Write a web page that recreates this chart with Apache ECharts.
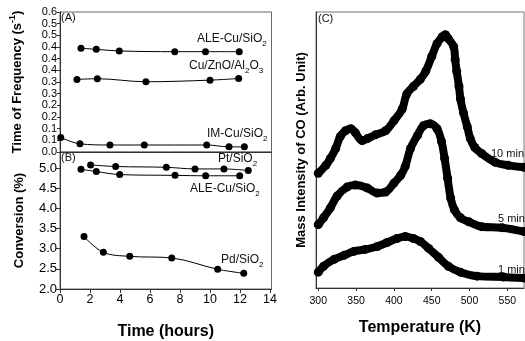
<!DOCTYPE html>
<html>
<head>
<meta charset="utf-8">
<script src="https://cdn.jsdelivr.net/npm/echarts@6/dist/echarts.min.js"></script>
<style>
  html, body { margin: 0; padding: 0; background: #fff; }
  #chart { width: 525px; height: 341px; }
</style>
</head>
<body>
<div id="chart"></div>
<script>
// panel A: turnover frequency vs time (hours)
const tfTimeAle = [1.4, 2.42, 3.95, 7.65, 9.7, 11.95];
const tfAle = [0.445, 0.44, 0.433, 0.43, 0.43, 0.43];
const tfTimeCuZn = [1.13, 2.49, 5.73, 10.0, 11.91];
const tfCuZn = [0.311, 0.314, 0.301, 0.308, 0.315];
const tfTimeIm = [0.05, 1.33, 3.33, 5.62, 9.78, 11.27, 12.29];
const tfIm = [0.062, 0.035, 0.03, 0.03, 0.03, 0.022, 0.022];
// tick labels of panel A, bottom to top, one per 0.05 step
const tfTickLabels = ['0.0', '0.1', '0.1', '0.2', '0.2', '0.3', '0.3', '0.4', '0.4', '0.4', '0.5', '0.5', '0.6'];

// panel B: conversion (%) vs time (hours)
const convTimePt = [2.04, 3.71, 7.09, 9.0, 10.93, 12.55];
const convPt = [5.08, 5.04, 5.02, 4.98, 4.98, 4.94];
const convTimeAle = [1.4, 2.42, 3.98, 7.67, 9.71, 11.98];
const convAle = [4.97, 4.915, 4.84, 4.82, 4.81, 4.81];
const convTimePd = [1.6, 2.89, 4.65, 7.45, 10.51, 12.25];
const convPd = [3.3, 2.91, 2.81, 2.77, 2.49, 2.39];
const timeTicks = [0, 2, 4, 6, 8, 10, 12, 14];

// panel C: CO mass signal [temperature K, intensity arb.]
const tpd10 = [[300, 116], [310, 124], [316, 131], [323, 141], [329, 153], [336, 159], [343, 161], [349, 157], [358, 149], [365, 151], [376, 155], [389, 159], [400, 169], [411, 181], [417, 196], [426, 204], [435, 211], [442, 219], [450, 234], [457, 247], [464, 254], [468, 256], [472, 252], [479, 244], [481, 231], [483, 219], [486, 204], [488, 191], [492, 177], [497, 163], [501, 151], [507, 142], [516, 136], [534, 127], [551, 124], [572, 122]];
const tpd5 = [[300, 64], [307, 71], [316, 81], [325, 93], [338, 102], [349, 104], [365, 101], [378, 96], [389, 97], [400, 106], [409, 114], [415, 123], [422, 141], [431, 154], [439, 164], [448, 166], [457, 161], [463, 148], [467, 131], [471, 111], [475, 91], [480, 79], [488, 71], [499, 67], [516, 62], [543, 61], [572, 57]];
const tpd1 = [[300, 16], [307, 22], [321, 29], [334, 33], [347, 37], [362, 39], [378, 42], [391, 46], [404, 50], [415, 52], [426, 50], [435, 47], [446, 40], [459, 31], [472, 22], [488, 16], [510, 12], [545, 11], [572, 10]];
const tempTicks = [300, 350, 400, 450, 500, 550];

const FONT = 'Liberation Sans, Arial, sans-serif';
const zip = (xs, ys) => xs.map((x, i) => [x, ys[i]]);

const chart = echarts.init(document.getElementById('chart'), null, { renderer: 'canvas' });

function dotLine(name, data, xi, yi) {
  return {
    name, type: 'line', xAxisIndex: xi, yAxisIndex: yi, data,
    smooth: 0.35, symbol: 'circle', symbolSize: 7, showSymbol: true,
    itemStyle: { color: '#000' },
    lineStyle: { color: '#000', width: 1 },
    animation: false,
  };
}

function thickCurve(name, data) {
  return {
    name, type: 'line', xAxisIndex: 2, yAxisIndex: 2, data,
    smooth: 0.4, symbol: 'circle', symbolSize: 9, showSymbol: true,
    itemStyle: { color: '#000' },
    lineStyle: { color: '#000', width: 8 },
    animation: false,
  };
}

const subRich = {
  s: { fontSize: 8, verticalAlign: 'bottom', lineHeight: 17, fontFamily: FONT, fill: '#000' },
};

function note(x, y, text, size) {
  return {
    type: 'text', x, y, silent: true,
    style: {
      text, fill: '#111', fontFamily: FONT, fontSize: size || 12,
      verticalAlign: 'middle', align: 'left', rich: subRich,
    },
  };
}

const axisLineStyle = { lineStyle: { color: '#333', width: 1 } };
const nameStyle = { fontFamily: FONT, fontWeight: 'bold', fontSize: 13, color: '#000' };
const notes = [
  note(61, 18, '(A)', 11),
  note(197, 39, 'ALE-Cu/SiO{s|2}'),
  note(189, 66, 'Cu/ZnO/Al{s|2}O{s|3}'),
  note(207, 134, 'IM-Cu/SiO{s|2}'),
  note(61, 158, '(B)', 11),
  note(218, 159, 'Pt/SiO{s|2}'),
  note(190, 189, 'ALE-Cu/SiO{s|2}'),
  note(221, 260, 'Pd/SiO{s|2}'),
  note(318, 19, '(C)', 11),
  note(491, 154, '10 min', 11),
  note(498, 219, '5 min', 11),
  note(498, 270, '1 min', 11),
];

chart.setOption({
  animation: false,
  textStyle: { fontFamily: FONT },
  grid: [
    { left: 60, top: 12, width: 211.5, height: 140, show: true, borderColor: '#666', borderWidth: 1 },
    { left: 60, top: 152, width: 211.5, height: 140, show: true, borderColor: '#666', borderWidth: 1 },
    { left: 316, top: 12, width: 208, height: 279, show: true, borderColor: '#777', borderWidth: 1 },
  ],
  xAxis: [
    {
      gridIndex: 0, type: 'value', min: 0, max: 14.1,
      axisLine: axisLineStyle, axisTick: { show: false }, axisLabel: { show: false }, splitLine: { show: false },
    },
    {
      gridIndex: 1, type: 'value', min: 0, max: 14.1,
      axisLine: axisLineStyle,
      axisTick: { show: true, length: 4, customValues: timeTicks, lineStyle: { color: '#333' } },
      // last tick label is drawn below as a graphic, so it is not lost at the panel edge
      axisLabel: { fontSize: 12.5, color: '#000', margin: 4, customValues: timeTicks.slice(0, -1) },
      splitLine: { show: false },
      name: 'Time (hours)', nameLocation: 'middle', nameGap: 35,
      nameTextStyle: { ...nameStyle, fontSize: 16 },
    },
    {
      gridIndex: 2, type: 'value', min: 297, max: 572,
      axisLine: axisLineStyle,
      axisTick: { show: true, length: 3, customValues: tempTicks, lineStyle: { color: '#333' } },
      axisLabel: { fontSize: 10.5, color: '#000', margin: 8, customValues: tempTicks },
      splitLine: { show: false },
      name: 'Temperature (K)', nameLocation: 'middle', nameGap: 32,
      nameTextStyle: { ...nameStyle, fontSize: 16 },
    },
  ],
  yAxis: [
    {
      gridIndex: 0, type: 'value', min: 0, max: 0.6, interval: 0.05,
      axisLine: axisLineStyle,
      axisTick: { show: true, length: 3, lineStyle: { color: '#333' } },
      axisLabel: {
        interval: 0, fontSize: 11, color: '#000', margin: 3, lineHeight: 11,
        showMinLabel: true, showMaxLabel: true, hideOverlap: false,
        formatter: (v) => tfTickLabels[Math.round(v / 0.05)] || '',
      },
      splitLine: { show: false },
      name: 'Time of Frequency (s{sup|-1})', nameLocation: 'middle', nameGap: 34, nameRotate: 90,
      nameTextStyle: {
        ...nameStyle,
        rich: { sup: { fontSize: 9, fontWeight: 'bold', fontFamily: FONT, verticalAlign: 'top', lineHeight: 18 } },
      },
    },
    {
      gridIndex: 1, type: 'value', min: 2, max: 5.4, interval: 0.5,
      axisLine: axisLineStyle,
      axisTick: { show: true, length: 4, lineStyle: { color: '#333' } },
      axisLabel: { fontSize: 13, color: '#000', margin: 3, showMinLabel: true, showMaxLabel: false, formatter: (v) => v.toFixed(1) },
      splitLine: { show: false },
      name: 'Conversion (%)', nameLocation: 'middle', nameGap: 34, nameRotate: 90,
      nameTextStyle: nameStyle,
    },
    {
      gridIndex: 2, type: 'value', min: 0, max: 279,
      axisLine: axisLineStyle, axisTick: { show: false }, axisLabel: { show: false }, splitLine: { show: false },
      name: 'Mass Intensity of CO (Arb. Unit)', nameLocation: 'middle', nameGap: 8, nameRotate: 90,
      nameTextStyle: nameStyle,
    },
  ],
  series: [
    dotLine('ALE-Cu/SiO2', zip(tfTimeAle, tfAle), 0, 0),
    dotLine('Cu/ZnO/Al2O3', zip(tfTimeCuZn, tfCuZn), 0, 0),
    dotLine('IM-Cu/SiO2', zip(tfTimeIm, tfIm), 0, 0),
    dotLine('Pt/SiO2', zip(convTimePt, convPt), 1, 1),
    dotLine('ALE-Cu/SiO2 conv', zip(convTimeAle, convAle), 1, 1),
    dotLine('Pd/SiO2', zip(convTimePd, convPd), 1, 1),
    thickCurve('10 min', tpd10),
    thickCurve('5 min', tpd5),
    thickCurve('1 min', tpd1),
  ],
  graphic: notes,
});

// place the last time tick label from the axis scale, same offset as the axis labels
const lastTick = timeTicks[timeTicks.length - 1];
const p = chart.convertToPixel({ xAxisIndex: 1, yAxisIndex: 1 }, [lastTick, 2]);
chart.setOption({
  graphic: notes.concat([{
    type: 'text', x: p[0], y: p[1] + 4, silent: true,
    style: { text: String(lastTick), fill: '#000', fontFamily: FONT, fontSize: 12.5, align: 'center', verticalAlign: 'top' },
  }]),
});
</script>
</body>
</html>
